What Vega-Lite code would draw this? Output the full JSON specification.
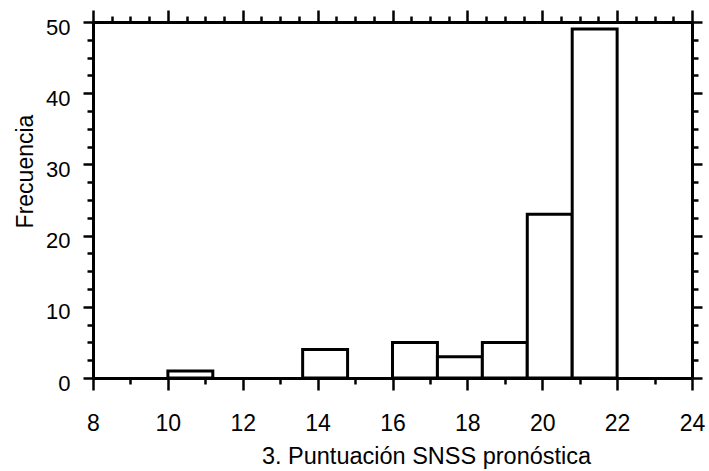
{
  "$schema": "https://vega.github.io/schema/vega-lite/v6.json",
  "width": 599,
  "height": 356,
  "autosize": {"type": "none"},
  "padding": {"left": 93, "top": 22, "right": 17, "bottom": 93},
  "background": "white",
  "config": {
    "view": {"stroke": null},
    "axis": {
      "domainColor": "black",
      "domainWidth": 3,
      "tickColor": "black",
      "tickWidth": 2.5,
      "labelColor": "black",
      "titleColor": "black",
      "labelFont": "Liberation Sans",
      "titleFont": "Liberation Sans",
      "titleFontWeight": "normal",
      "grid": false,
      "zindex": 1
    }
  },
  "data": {
    "values": [
      {"bin_start": 10.0, "bin_end": 11.2, "count": 1},
      {"bin_start": 13.6, "bin_end": 14.8, "count": 4},
      {"bin_start": 16.0, "bin_end": 17.2, "count": 5},
      {"bin_start": 17.2, "bin_end": 18.4, "count": 3},
      {"bin_start": 18.4, "bin_end": 19.6, "count": 5},
      {"bin_start": 19.6, "bin_end": 20.8, "count": 23},
      {"bin_start": 20.8, "bin_end": 22.0, "count": 49}
    ]
  },
  "resolve": {"axis": {"x": "independent", "y": "independent"}},
  "layer": [
    {
      "mark": {"type": "bar", "fill": "white", "stroke": "black", "strokeWidth": 3},
      "encoding": {
        "x": {
          "field": "bin_start",
          "type": "quantitative",
          "scale": {"domain": [8, 24], "nice": false, "zero": false},
          "axis": {
            "orient": "bottom",
            "title": "3. Puntuación SNSS pronóstica",
            "titleFontSize": 23.5,
            "titleX": 333,
            "titleY": 85,
            "titleAlign": "center",
            "titleBaseline": "alphabetic",
            "values": [8, 8.5, 9, 9.5, 10, 10.5, 11, 11.5, 12, 12.5, 13, 13.5, 14, 14.5, 15, 15.5, 16, 16.5, 17, 17.5, 18, 18.5, 19, 19.5, 20, 20.5, 21, 21.5, 22, 22.5, 23, 23.5, 24],
            "format": "d",
            "labelExpr": "datum.value % 2 === 0 ? datum.label : ''",
            "labelFontSize": 23,
            "labelOverlap": false,
            "labelFlush": false,
            "labelBaseline": "alphabetic",
            "labelPadding": 40,
            "tickSize": {"condition": {"test": "datum.value % 2 === 0", "value": 12}, "value": 6}
          }
        },
        "x2": {"field": "bin_end"},
        "y": {
          "field": "count",
          "type": "quantitative",
          "scale": {"domain": [0, 50], "nice": false},
          "axis": {
            "orient": "left",
            "title": "Frecuencia",
            "titleFontSize": 23,
            "titleAngle": -90,
            "titleX": -61,
            "titleY": 149,
            "titleAlign": "center",
            "titleBaseline": "alphabetic",
            "values": [0, 2.5, 5, 7.5, 10, 12.5, 15, 17.5, 20, 22.5, 25, 27.5, 30, 32.5, 35, 37.5, 40, 42.5, 45, 47.5, 50],
            "format": "d",
            "labelExpr": "datum.value % 10 === 0 ? datum.label : ''",
            "labelFontSize": 22,
            "labelOverlap": false,
            "labelFlush": false,
            "labelPadding": 13,
            "labelOffset": 5,
            "tickSize": {"condition": {"test": "datum.value % 10 === 0", "value": 10}, "value": 6}
          }
        },
        "y2": {"datum": 0}
      }
    },
    {
      "mark": {"type": "bar", "fillOpacity": 0, "strokeOpacity": 0},
      "encoding": {
        "x": {
          "field": "bin_start",
          "type": "quantitative",
          "axis": {
            "orient": "top",
            "title": null,
            "labels": false,
            "values": [8, 8.5, 9, 9.5, 10, 10.5, 11, 11.5, 12, 12.5, 13, 13.5, 14, 14.5, 15, 15.5, 16, 16.5, 17, 17.5, 18, 18.5, 19, 19.5, 20, 20.5, 21, 21.5, 22, 22.5, 23, 23.5, 24],
            "tickSize": {"condition": {"test": "datum.value % 2 === 0", "value": 12}, "value": 6}
          }
        },
        "x2": {"field": "bin_end"},
        "y": {
          "field": "count",
          "type": "quantitative",
          "axis": {
            "orient": "right",
            "title": null,
            "labels": false,
            "values": [0, 2.5, 5, 7.5, 10, 12.5, 15, 17.5, 20, 22.5, 25, 27.5, 30, 32.5, 35, 37.5, 40, 42.5, 45, 47.5, 50],
            "tickSize": {"condition": {"test": "datum.value % 10 === 0", "value": 10}, "value": 6}
          }
        },
        "y2": {"datum": 0}
      }
    }
  ]
}
